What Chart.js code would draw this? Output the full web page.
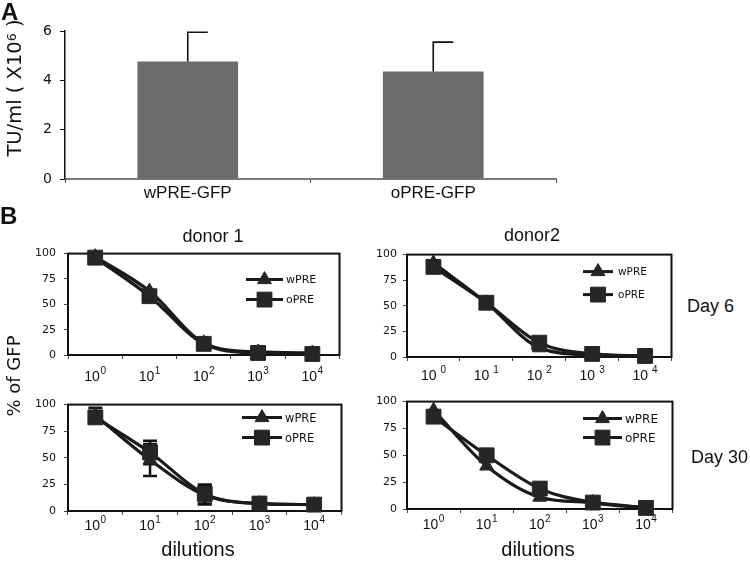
<!DOCTYPE html>
<html><head><meta charset="utf-8">
<script src="https://cdn.jsdelivr.net/npm/chart.js@4.4.0/dist/chart.umd.min.js"></script>
<style>
html,body{margin:0;padding:0;background:#fff;}
#wrap{position:relative;width:750px;height:561px;overflow:hidden;background:#fff;}
canvas{position:absolute;}
.t{position:absolute;white-space:nowrap;color:#111;line-height:1;font-family:'Liberation Sans',Arial,sans-serif;}
.t sup{font-size:65%;vertical-align:0.45em;line-height:0;}
</style></head><body><div id="wrap"></div>
<script>
// ---------- data ----------
const barCategories = ['wPRE-GFP', 'oPRE-GFP'];
const barValues = [4.76, 4.36];
const barErrors = [1.19, 1.19];
const barTicks = [0, 2, 4, 6];

const dilutionLabels = ['10⁰', '10¹', '10²', '10³', '10⁴'];
const dilutionBase = '10';
const dilutionExponents = ['0', '1', '2', '3', '4'];
const gfpTicks = [0, 25, 50, 75, 100];

const d1day6_wPRE = [97, 63, 12, 3, 2];
const d1day6_oPRE = [96, 58, 11, 2, 1];
const d2day6_wPRE = [92, 53, 9, 2, 1];
const d2day6_oPRE = [88, 53, 14, 3, 1];
const d1day30_wPRE = [90, 48, 15, 7, 6];
const d1day30_oPRE = [88, 55, 16, 7, 6];
const d1day30_wPRE_err = [7, 15, 9, 2, 1];
const d1day30_oPRE_err = [5, 11, 9, 1, 1];
const d2day30_wPRE = [92, 40, 11, 6, 1];
const d2day30_oPRE = [86, 50, 19, 6, 1];

// ---------- setup ----------
const wrap = document.getElementById('wrap');
Chart.defaults.animation = false;
Chart.defaults.font.family = "'Liberation Sans', Arial, 'DejaVu Sans', sans-serif";
Chart.defaults.color = '#111';

const INK = '#1a1a1a';
const MARK = '#262626';
const SANS = "'Liberation Sans', Arial, sans-serif";
const VERD = "'DejaVu Sans', Verdana, sans-serif";

function mkCanvas(area, yW, xH, padT, padR) {
  const c = document.createElement('canvas');
  const left = area.l - yW, top = area.t - padT;
  const w = area.r - left + padR, h = area.b - top + xH;
  c.width = w; c.height = h;
  c.style.left = left + 'px'; c.style.top = top + 'px';
  c.style.width = w + 'px'; c.style.height = h + 'px';
  wrap.appendChild(c);
  return c;
}

function text(html, x, y, size, opts = {}) {
  const d = document.createElement('div');
  d.className = 't';
  d.innerHTML = html;
  d.style.fontSize = size + 'px';
  if (opts.family) d.style.fontFamily = opts.family;
  if (opts.bold) d.style.fontWeight = 'bold';
  d.style.left = x + 'px';
  d.style.top = y + 'px';
  let tr = '';
  if (opts.center) tr += 'translate(-50%,-50%) ';
  else if (opts.vcenter) tr += 'translateY(-50%) ';
  if (opts.rotate) tr += 'rotate(-90deg)';
  d.style.transform = tr;
  wrap.appendChild(d);
}

function drawMarker(ctx, style, r, x, y) {
  ctx.beginPath();
  if (style === 'rect') {
    const s = Math.SQRT1_2 * r;
    ctx.rect(x - s, y - s, 2 * s, 2 * s);
  } else {
    let rad = 0;
    ctx.moveTo(x + Math.sin(rad) * r, y - Math.cos(rad) * r);
    rad += 2 * Math.PI / 3;
    ctx.lineTo(x + Math.sin(rad) * r, y - Math.cos(rad) * r);
    rad += 2 * Math.PI / 3;
    ctx.lineTo(x + Math.sin(rad) * r, y - Math.cos(rad) * r);
    ctx.closePath();
  }
  ctx.fillStyle = MARK; ctx.strokeStyle = MARK; ctx.lineWidth = 1;
  ctx.fill(); ctx.stroke();
}

// ---------- panel A ----------
(function () {
  const area = { l: 65, t: 31, r: 556, b: 179 };
  const c = mkCanvas(area, 65, 30, 31, 10);
  const errPlugin = {
    id: 'barErr',
    afterDatasetsDraw(chart) {
      const ctx = chart.ctx, ys = chart.scales.y;
      const meta = chart.getDatasetMeta(0);
      ctx.save();
      ctx.strokeStyle = '#111'; ctx.lineWidth = 1.6;
      meta.data.forEach((bar, i) => {
        const x = bar.x;
        const y0 = ys.getPixelForValue(barValues[i]);
        const y1 = ys.getPixelForValue(barValues[i] + barErrors[i]);
        ctx.beginPath();
        ctx.moveTo(x, y0); ctx.lineTo(x, y1);
        ctx.moveTo(x - 0.8, y1); ctx.lineTo(x + 20, y1);
        ctx.stroke();
      });
      ctx.restore();
    }
  };
  new Chart(c, {
    type: 'bar',
    data: {
      labels: barCategories,
      datasets: [{ data: barValues, backgroundColor: '#6b6b6b', borderWidth: 0, barPercentage: 0.41, categoryPercentage: 1 }]
    },
    options: {
      responsive: false,
      layout: { padding: { top: 31, right: 10, left: 0, bottom: 0 } },
      plugins: { legend: { display: false }, tooltip: { enabled: false } },
      scales: {
        x: {
          afterFit: s => { s.height = 30; },
          grid: { drawOnChartArea: false, drawTicks: true, tickLength: 4, color: '#555', offset: true },
          border: { display: true, color: '#7a7a7a', width: 2 },
          ticks: { font: { size: 17 }, padding: 0, color: '#111' }
        },
        y: {
          min: 0, max: 6,
          afterFit: s => { s.width = 65; },
          afterBuildTicks: s => { s.ticks = barTicks.map(v => ({ value: v })); },
          grid: { drawOnChartArea: false, drawTicks: true, tickLength: 5, color: '#111' },
          border: { display: true, color: '#111', width: 1.5 },
          ticks: { font: { size: 14, family: VERD }, padding: 8, color: '#111' }
        }
      }
    },
    plugins: [errPlugin]
  });
})();

// ---------- panel B ----------
function smallChart(spec) {
  const area = spec.area;
  const yW = 40, xH = 34, padT = 12, padR = 6;
  const c = mkCanvas(area, yW, xH, padT, padR);

  const framePlugin = {
    id: 'frame',
    beforeDatasetsDraw(chart) {
      const ctx = chart.ctx, a = chart.chartArea;
      ctx.save();
      ctx.strokeStyle = '#111'; ctx.lineWidth = 2;
      ctx.strokeRect(a.left, a.top, a.right - a.left, a.bottom - a.top);
      const ys = chart.scales.y;
      chart.data.datasets.forEach((ds, di) => {
        if (!ds.errors) return;
        const meta = chart.getDatasetMeta(di);
        ctx.strokeStyle = '#111'; ctx.lineWidth = 2.5;
        meta.data.forEach((pt, i) => {
          const e = ds.errors[i];
          if (!e) return;
          const yt = ys.getPixelForValue(ds.data[i] + e);
          const yb = ys.getPixelForValue(ds.data[i] - e);
          ctx.beginPath();
          ctx.moveTo(pt.x, yt); ctx.lineTo(pt.x, yb);
          ctx.moveTo(pt.x - 7, yt); ctx.lineTo(pt.x + 7, yt);
          ctx.moveTo(pt.x - 7, yb); ctx.lineTo(pt.x + 7, yb);
          ctx.stroke();
        });
      });
      ctx.restore();
    }
  };

  const labelPlugin = {
    id: 'powLabels',
    afterDraw(chart) {
      const ctx = chart.ctx, xs = chart.scales.x, a = chart.chartArea;
      ctx.save();
      ctx.fillStyle = '#111';
      ctx.textBaseline = 'middle';
      ctx.textAlign = 'left';
      const y = a.bottom + spec.labelOff;
      dilutionExponents.forEach((e, i) => {
        const x = xs.getPixelForTick(i);
        ctx.font = '14px ' + SANS;
        const wb = ctx.measureText(dilutionBase).width;
        ctx.font = '10px ' + SANS;
        const we = ctx.measureText(e).width;
        const total = wb + spec.gap + we;
        const x0 = x - total / 2;
        ctx.font = '14px ' + SANS;
        ctx.fillText(dilutionBase, x0, y);
        ctx.font = '10px ' + SANS;
        ctx.fillText(e, x0 + wb + spec.gap, y - 5.5);
      });
      ctx.restore();
    }
  };

  const legendPlugin = {
    id: 'inLegend',
    afterDraw(chart) {
      const ctx = chart.ctx, a = chart.chartArea, L = spec.legend;
      ctx.save();
      const items = [['triangle', 8, 'wPRE', L.dy1], ['rect', 10.5, 'oPRE', L.dy2]];
      items.forEach(([st, r, label, dy]) => {
        const y = a.top + dy;
        ctx.beginPath();
        ctx.strokeStyle = INK; ctx.lineWidth = 3;
        ctx.moveTo(a.left + L.x1, y); ctx.lineTo(a.left + L.x2, y);
        ctx.stroke();
        drawMarker(ctx, st, r, a.left + (L.x1 + L.x2) / 2, y);
        ctx.fillStyle = '#111';
        ctx.font = L.size + 'px ' + VERD;
        ctx.textBaseline = 'middle';
        ctx.textAlign = 'left';
        ctx.fillText(label, a.left + L.tx, y + 1);
      });
      ctx.restore();
    }
  };

  const lineDs = (label, data, style, r, order, errors) => ({
    label, data, errors,
    borderColor: INK, borderWidth: 3.2,
    pointStyle: style, pointRadius: r,
    pointBackgroundColor: MARK, pointBorderColor: MARK, pointBorderWidth: 1,
    cubicInterpolationMode: 'monotone', tension: 0.4,
    clip: false, order
  });

  new Chart(c, {
    type: 'line',
    data: {
      labels: dilutionLabels,
      datasets: [
        lineDs('wPRE', spec.w, 'triangle', 8, 1, spec.we),
        lineDs('oPRE', spec.o, 'rect', 10.5, 0, spec.oe)
      ]
    },
    options: {
      responsive: false,
      layout: { padding: { top: padT, right: padR, left: 0, bottom: 0 } },
      plugins: { legend: { display: false }, tooltip: { enabled: false } },
      scales: {
        x: {
          afterFit: s => { s.height = xH; },
          offset: true,
          grid: { drawOnChartArea: false, drawTicks: true, tickLength: 4, color: '#444', offset: true },
          border: { display: true, color: '#111', width: 2 },
          ticks: { display: false, autoSkip: false }
        },
        y: {
          min: 0, max: 100,
          afterFit: s => { s.width = yW; },
          afterBuildTicks: s => { s.ticks = gfpTicks.map(v => ({ value: v })); },
          grid: { drawOnChartArea: false, drawTicks: true, tickLength: 4, color: '#444' },
          border: { display: true, color: '#111', width: 2 },
          ticks: { font: { size: 11, family: VERD }, padding: spec.ypad, color: '#111' }
        }
      }
    },
    plugins: [framePlugin, labelPlugin, legendPlugin]
  });
}

smallChart({
  area: { l: 68, t: 251, r: 345, b: 355 },
  w: d1day6_wPRE, o: d1day6_oPRE, labelOff: 22, gap: 0.5, ypad: 8,
  legend: { x1: 178, x2: 215, dy1: 26, dy2: 46, tx: 218, size: 11 }
});
smallChart({
  area: { l: 407, t: 254, r: 677, b: 357 },
  w: d2day6_wPRE, o: d2day6_oPRE, labelOff: 19, gap: 4, ypad: 6,
  legend: { x1: 176, x2: 206, dy1: 17, dy2: 40, tx: 211, size: 10.5 }
});
smallChart({
  area: { l: 68, t: 402, r: 347, b: 511 },
  w: d1day30_wPRE, o: d1day30_oPRE, we: d1day30_wPRE_err, oe: d1day30_oPRE_err, labelOff: 15, gap: 0.5, ypad: 8,
  legend: { x1: 174, x2: 214, dy1: 13, dy2: 33, tx: 217, size: 11.5 }
});
smallChart({
  area: { l: 407, t: 401, r: 678, b: 509 },
  w: d2day30_wPRE, o: d2day30_oPRE, labelOff: 16, gap: 0.5, ypad: 6,
  legend: { x1: 176, x2: 215, dy1: 17, dy2: 36, tx: 218, size: 12 }
});

// ---------- free text ----------
text('A', 1, 0, 24, { bold: true });
text('B', 0, 204, 24, { bold: true });
text('TU/ml ( X10<sup>6</sup> )', 15, 88, 19.5, { center: true, rotate: true, family: VERD });
text('% of GFP', 14, 376, 18, { center: true, rotate: true, family: VERD });
text('donor 1', 213, 236, 18, { center: true });
text('donor2', 532, 235, 18, { center: true });
text('Day 6', 687, 306, 18, { vcenter: true });
text('Day 30', 691, 457, 18, { vcenter: true });
text('dilutions', 198, 549, 20, { center: true });
text('dilutions', 538, 549, 20, { center: true });
</script></body></html>
